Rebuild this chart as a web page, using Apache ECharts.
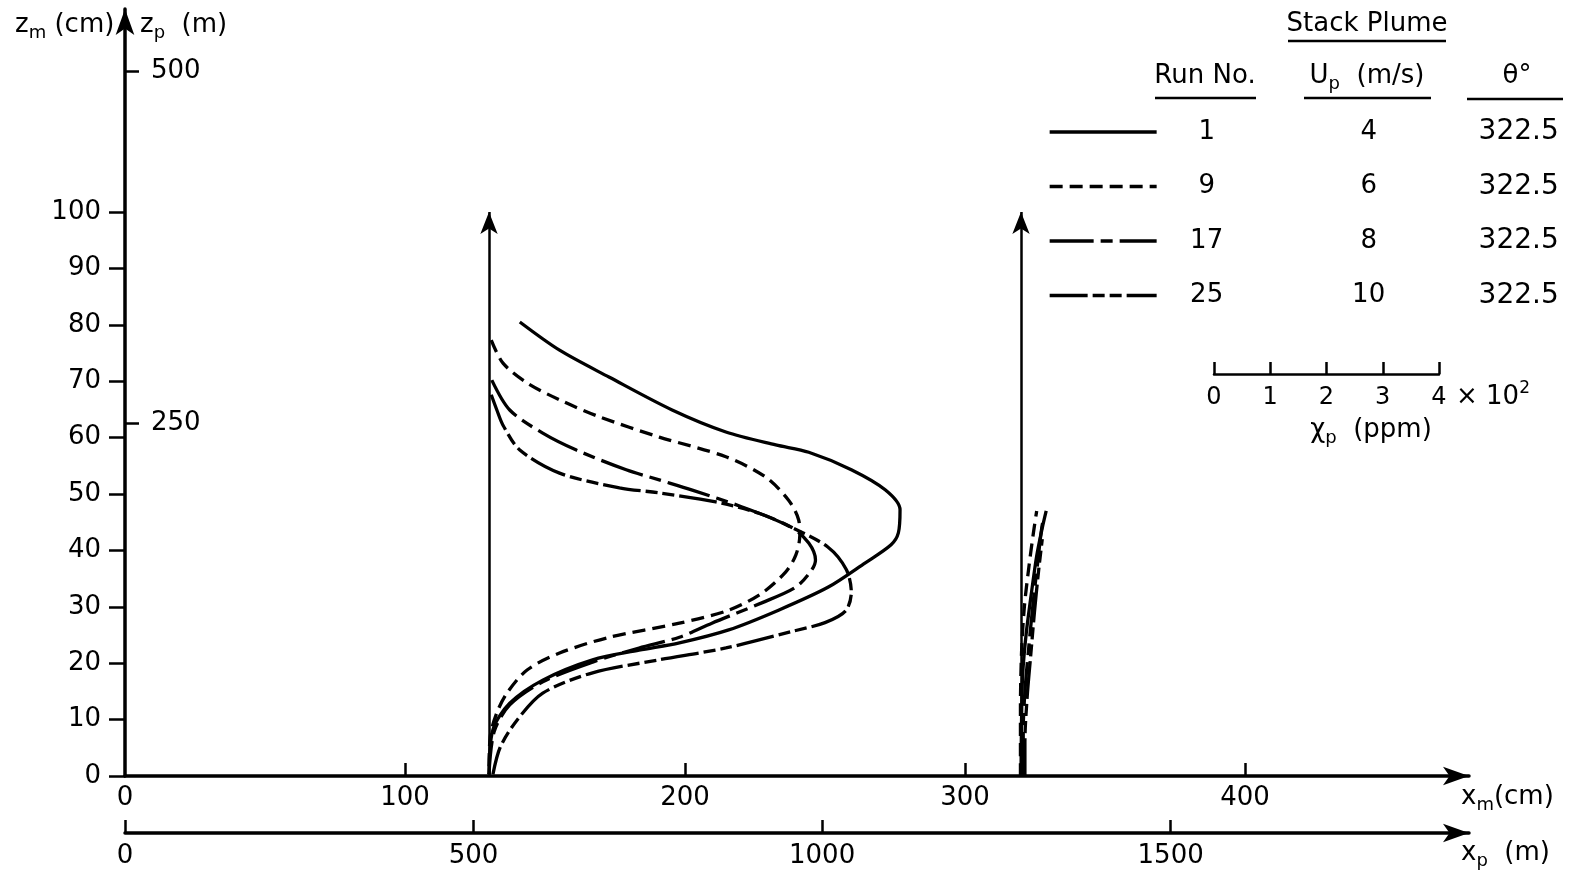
<!DOCTYPE html>
<html><head><meta charset="utf-8">
<script src="https://cdn.jsdelivr.net/npm/echarts@6/dist/echarts.min.js"></script>
<style>html,body{margin:0;padding:0;background:#fff}#c{width:1575px;height:879px}</style>
</head><body><div id="c"></div>
<script>
// ---------- data ----------
const RUNS = ['1', '9', '17', '25'];
const UP = ['4', '6', '8', '10'];
const THETA = ['322.5', '322.5', '322.5', '322.5'];
const STATION_XM = [130, 320];          // measuring stations, x_m (cm)
const STATION_TOP = 100;                // profile axis height, z_m (cm)
const CM_PER_PPM = 80 / 400;            // concentration scale bar: 400 ppm = 80 cm
const Z_TICKS = [0, 10, 20, 30, 40, 50, 60, 70, 80, 90, 100];
const ZP_TICKS = [250, 500];
const XM_TICKS = [0, 100, 200, 300, 400];
const XP_TICKS = [0, 500, 1000, 1500];
const PPM_TICKS = [0, 1, 2, 3, 4];

// profiles: [concentration ppm, z_m cm]
const run1Near = [[55,80.5],[126,75.5],[215,70.7],[327,64.9],[423,61.0],[512,58.7],[571,57.4],[647,54.3],[708,50.7],[734,47.2],[731,43.1],[718,41.0],[672,37.8],[606,33.5],[517,29.4],[428,25.9],[340,23.6],[268,22.3],[185,20.6],[96,17.0],[37,12.9],[7,8.2],[0,0.3]];
const run9Near = [[4,77.3],[25,73.2],[68,69.7],[126,66.7],[197,63.7],[304,60.1],[423,56.6],[494,53.0],[535,48.9],[553,45.4],[555,42.7],[548,39.2],[530,36.2],[487,32.4],[428,29.4],[340,27.1],[215,24.6],[126,21.8],[68,18.8],[32,14.7],[14,11.2],[2,6.9],[0,0.3]];
const run17Near = [[5,70.2],[37,64.9],[96,60.8],[156,57.8],[245,54.3],[304,52.5],[363,50.7],[452,47.7],[540,44.1],[571,41.3],[583,38.3],[576,36.5],[548,33.5],[487,30.7],[398,27.1],[340,24.6],[268,22.7],[185,20.2],[96,16.7],[37,12.6],[9,7.8],[0,0.3]];
const run25Near = [[4,67.6],[14,64.9],[25,62.2],[55,57.8],[126,53.7],[233,51.1],[304,50.2],[405,48.6],[482,46.6],[540,44.1],[605,40.6],[638,36.6],[647,32.6],[637,29.3],[600,27.2],[540,25.6],[423,22.7],[304,20.6],[185,18.3],[96,14.7],[50,9.9],[20,5.1],[7,0.3]];
const run1Far = [[0,0],[1,10],[3,18],[9,25],[18,32],[28,39],[38,44],[45,47]];
const run9Far = [[-1,0],[-1,12],[1,22],[6,30],[14,37],[22,43],[28,47]];
const run17Far = [[4,0],[4,8],[7,15],[14,23],[22,31],[30,38],[37,44],[41,46]];
const run25Far = [[7,0],[7,6],[11,14],[17,21],[24,29],[31,36],[38,42]];

const PROFILES = [[run1Near, run1Far], [run9Near, run9Far], [run17Near, run17Far], [run25Near, run25Far]];
const DASH = ['solid', [13, 7], [44, 7, 12, 7], [38, 5, 12, 5, 12, 5]];

// ---------- chart ----------
const FONT = 'DejaVu Sans';
const chart = echarts.init(document.getElementById('c'), null, { renderer: 'canvas' });

const series = [];
PROFILES.forEach((pair, i) => {
  pair.forEach((prof, k) => {
    series.push({
      name: 'Run ' + RUNS[i], type: 'line', xAxisIndex: 0, yAxisIndex: 0,
      data: prof.map(p => [STATION_XM[k] + p[0] * CM_PER_PPM, p[1]]),
      symbol: 'none', showSymbol: false, smooth: 0.3, silent: true,
      lineStyle: { color: '#000', width: 3.3, type: DASH[i], cap: 'butt' },
      itemStyle: { color: '#000' }, animation: false
    });
  });
});
series.push({
  type: 'line', xAxisIndex: 0, yAxisIndex: 0, data: [], silent: true, animation: false,
  markLine: {
    silent: true, animation: false, symbol: ['none', 'arrow'], symbolSize: [13, 22],
    label: { show: false }, emphasis: { disabled: true },
    lineStyle: { color: '#000', width: 2.5, type: 'solid' },
    data: STATION_XM.map(x => [{ coord: [x, 0] }, { coord: [x, STATION_TOP] }])
  }
});

const axisLineStyle = { color: '#000', width: 3.5 };
const tickStyle = { color: '#000', width: 2.5 };
const plain = v => String(v);
const lbl = { color: '#000', fontFamily: FONT, fontSize: 26, formatter: plain };

const sub = (t, s, rest) => `{n|${t}}{s|${s}}{n|${rest}}`;
const richSub = {
  n: { fontFamily: FONT, fontSize: 26, lineHeight: 34, fill: '#000' },
  s: { fontFamily: FONT, fontSize: 18, lineHeight: 18, verticalAlign: 'bottom', fill: '#000' },
  sup: { fontFamily: FONT, fontSize: 17, lineHeight: 17, verticalAlign: 'top', fill: '#000' }
};
function txt(x, y, text, align, rich) {
  const style = { text: text, x: 0, y: 0, fill: '#000', font: '26px "' + FONT + '"', align: align || 'left', verticalAlign: 'middle' };
  if (rich) style.rich = richSub;
  return { type: 'text', x: x, y: y, silent: true, style: style };
}
function uline(x1, x2, y) {
  return { type: 'line', silent: true, shape: { x1: x1, y1: y, x2: x2, y2: y }, style: { stroke: '#000', lineWidth: 2.5 } };
}

const option = {
  backgroundColor: '#fff',
  animation: false,
  grid: [
    { left: 125, right: 106, top: 9, bottom: 103 },
    { left: 1214, right: 136, top: 364, height: 10 }
  ],
  xAxis: [
    { type: 'value', gridIndex: 0, min: 0, max: 480, position: 'bottom',
      axisLine: { show: true, onZero: false, symbol: ['none', 'arrow'], symbolSize: [14, 26], lineStyle: axisLineStyle },
      axisTick: { show: true, inside: true, length: 13, customValues: XM_TICKS.filter(v => v > 0), lineStyle: tickStyle },
      axisLabel: Object.assign({ show: true, margin: 9, customValues: XM_TICKS }, lbl),
      splitLine: { show: false } },
    { type: 'value', gridIndex: 0, min: 0, max: 1928, position: 'bottom', offset: 57,
      axisLine: { show: true, onZero: false, symbol: ['none', 'arrow'], symbolSize: [14, 26], lineStyle: axisLineStyle },
      axisTick: { show: true, inside: true, length: 13, customValues: XP_TICKS, lineStyle: tickStyle },
      axisLabel: Object.assign({ show: true, margin: 10, customValues: XP_TICKS }, lbl),
      splitLine: { show: false } },
    { type: 'value', gridIndex: 1, min: 0, max: 4, interval: 1, position: 'bottom',
      axisLine: { show: true, onZero: false, lineStyle: { color: '#000', width: 2.5 } },
      axisTick: { show: true, inside: true, length: 12, customValues: PPM_TICKS, lineStyle: { color: '#000', width: 2.5 } },
      axisLabel: { show: true, margin: 12, customValues: PPM_TICKS, color: '#000', fontFamily: FONT, fontSize: 24 },
      splitLine: { show: false } }
  ],
  yAxis: [
    { type: 'value', gridIndex: 0, min: 0, max: 136, position: 'left',
      axisLine: { show: true, onZero: false, symbol: ['none', 'arrow'], symbolSize: [14, 26], lineStyle: axisLineStyle },
      axisTick: { show: true, inside: false, length: 16, customValues: Z_TICKS, lineStyle: tickStyle },
      axisLabel: Object.assign({ show: true, margin: 24, customValues: Z_TICKS }, lbl),
      splitLine: { show: false } },
    { type: 'value', gridIndex: 0, min: 0, max: 544, position: 'left', offset: 0,
      axisLine: { show: false },
      axisTick: { show: true, inside: true, length: 14, customValues: ZP_TICKS, lineStyle: tickStyle },
      axisLabel: Object.assign({ show: true, inside: true, margin: 26, customValues: ZP_TICKS }, lbl),
      splitLine: { show: false } },
    { type: 'value', gridIndex: 1, show: false, min: 0, max: 1 }
  ],
  legend: {
    show: true, orient: 'vertical', left: 1048, top: 118, padding: 0,
    itemWidth: 107, itemHeight: 14, itemGap: 26.5, selectedMode: false,
    data: RUNS.map(r => 'Run ' + r),
    itemStyle: { opacity: 0, borderWidth: 0 },
    lineStyle: { width: 3.3 },
    formatter: function (name) {
      const i = RUNS.indexOf(name.replace('Run ', ''));
      return `{a|${RUNS[i]}}{b|${UP[i]}}{c|${THETA[i]}}`;
    },
    textStyle: {
      color: '#000', fontFamily: FONT, fontSize: 26,
      rich: {
        a: { width: 90, align: 'center', fontFamily: FONT, fontSize: 26, lineHeight: 30, color: '#000' },
        b: { width: 234, align: 'center', fontFamily: FONT, fontSize: 26, lineHeight: 30, color: '#000' },
        c: { width: 66, align: 'center', fontFamily: FONT, fontSize: 28, lineHeight: 30, color: '#000' }
      }
    }
  },
  graphic: [
    txt(15, 25, sub('z', 'm', ' (cm)'), 'left', true),
    txt(140, 25, sub('z', 'p', '  (m)'), 'left', true),
    txt(1461, 797, sub('x', 'm', '(cm)'), 'left', true),
    txt(1461, 853, sub('x', 'p', '  (m)'), 'left', true),
    txt(1367, 24, 'Stack Plume', 'center'),
    uline(1288, 1446, 41),
    txt(1205, 76, 'Run No.', 'center'),
    uline(1155, 1256, 98),
    txt(1367, 76, sub('U', 'p', '  (m/s)'), 'center', true),
    uline(1304, 1431, 98),
    txt(1517, 76, 'θ°', 'center'),
    uline(1467, 1563, 99),
    txt(1456, 397, '{n|× 10}{sup|2}', 'left', true),
    txt(1371, 430, sub('χ', 'p', '  (ppm)'), 'center', true)
  ],
  series: series
};
chart.setOption(option);
</script></body></html>
